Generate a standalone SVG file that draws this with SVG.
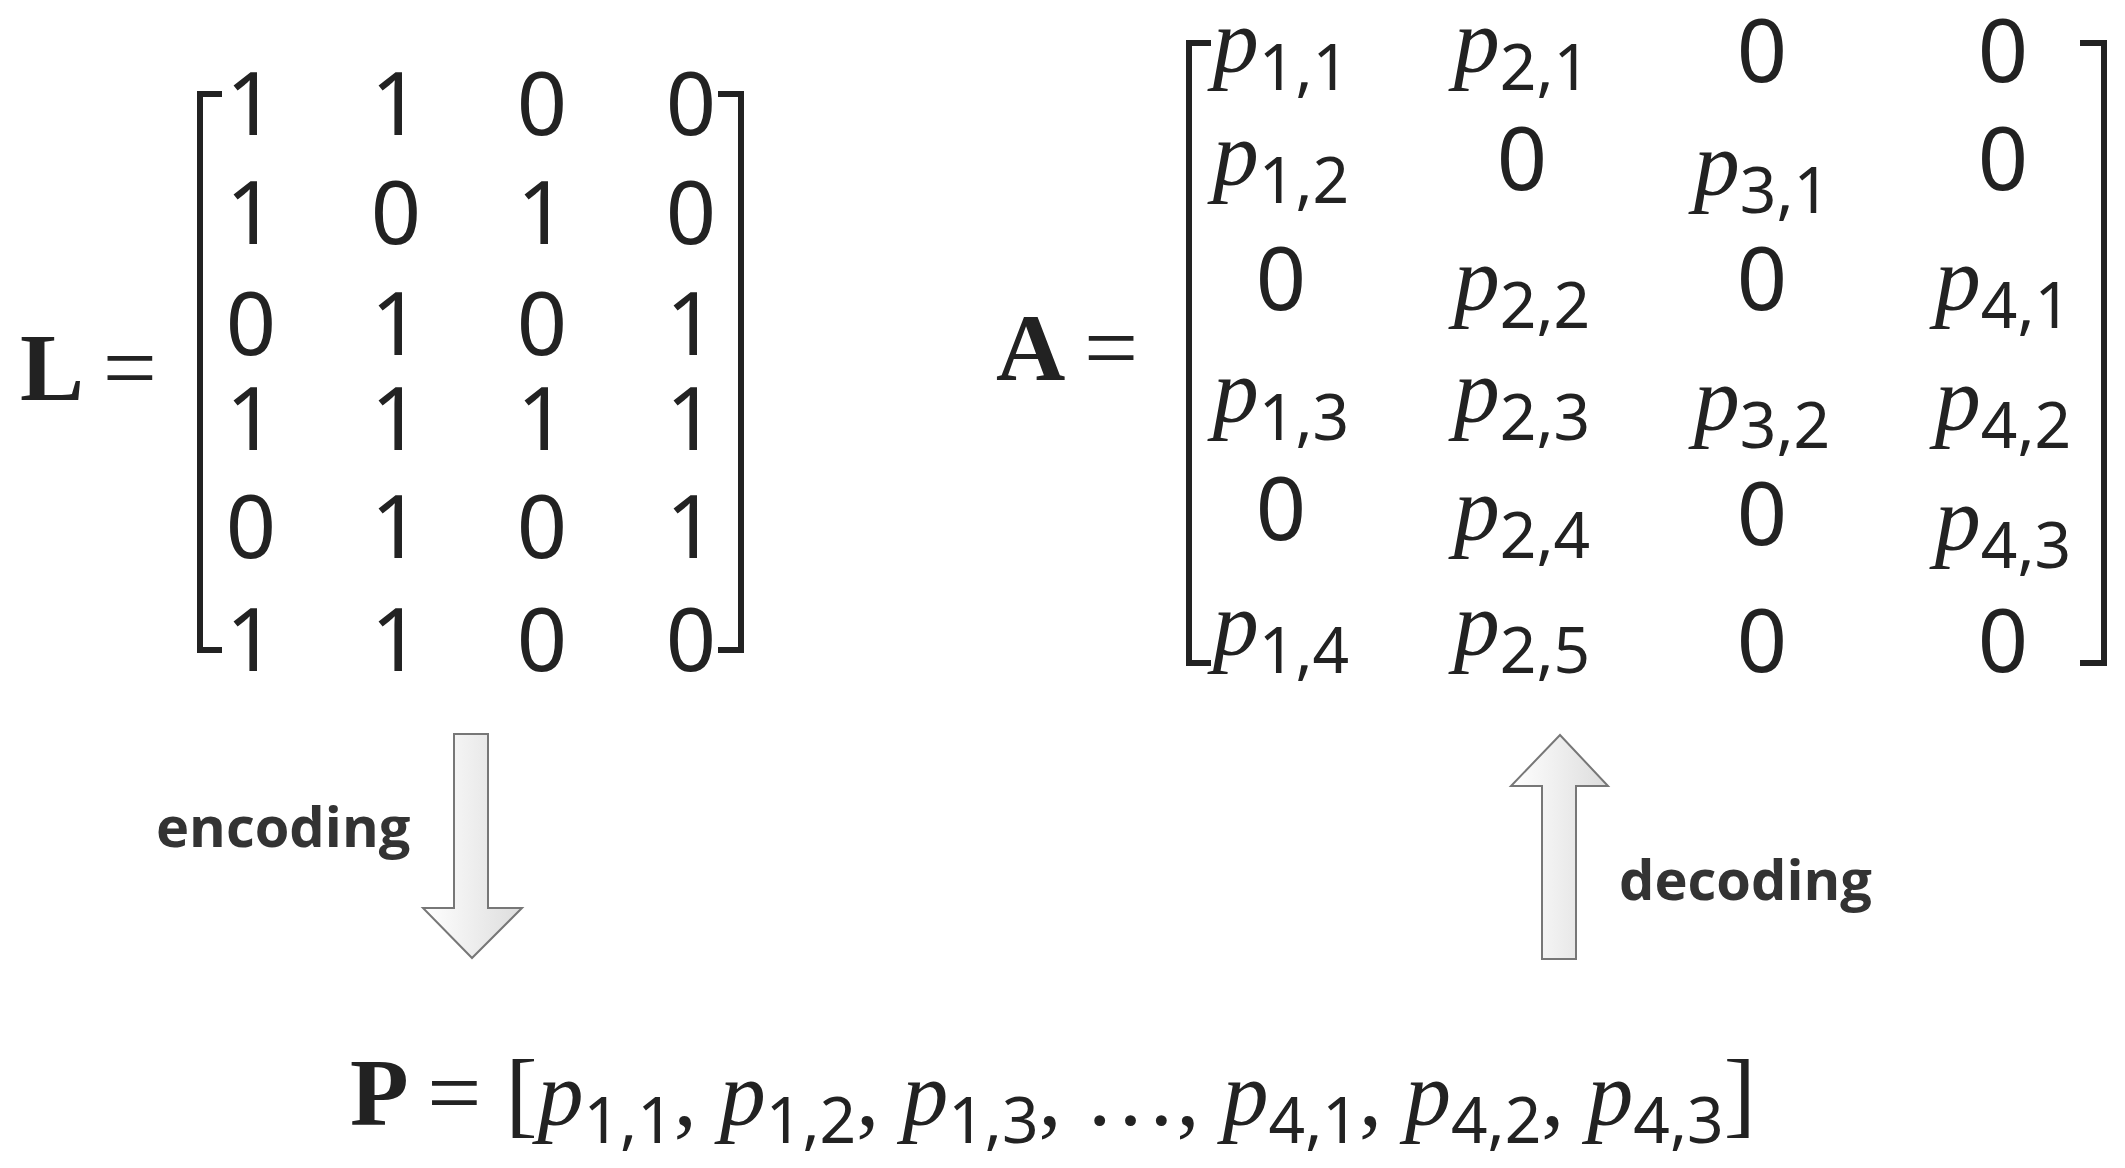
<svg xmlns="http://www.w3.org/2000/svg" width="2125" height="1168" viewBox="0 0 2125 1168">
<style>
.d{font-family:"Noto Sans","Liberation Sans",sans-serif;font-style:normal;font-weight:normal;font-size:88px;fill:#222;text-anchor:middle}
.p{font-family:"Liberation Serif",serif;font-style:italic;font-weight:normal;font-size:92px;fill:#222;text-anchor:middle}
.s{font-family:"Noto Sans",sans-serif;font-style:normal;font-weight:normal;font-size:64px}
.b{font-family:"Liberation Serif",serif;font-weight:bold;font-size:96px;fill:#222}
.eq{font-family:"Liberation Serif",serif;font-weight:normal;font-size:96px;fill:#222}
.n{font-style:normal;font-weight:normal}
.br{fill:none;stroke:#222;stroke-width:6}
.lbl{font-family:"Open Sans","Noto Sans",sans-serif;font-weight:bold;font-size:56px;fill:#333}
.arr{fill:url(#g);stroke:#777;stroke-width:2}
</style>
<defs><linearGradient id="g" x1="0" x2="1"><stop offset="0" stop-color="#fff"/><stop offset="1" stop-color="#ddd"/></linearGradient></defs>
<rect width="2125" height="1168" fill="#fff"/>
<g id="L">
<text class="b" x="20" y="400">L <tspan class="eq">=</tspan></text>
<path class="br" d="M222,94 H200 V650 H222 M718,94 H741 V650 H718"/>
<g class="d">
<text x="251" y="135">1</text><text x="396" y="135">1</text><text x="542" y="135">0</text><text x="691" y="135">0</text>
<text x="251" y="244">1</text><text x="396" y="244">0</text><text x="542" y="244">1</text><text x="691" y="244">0</text>
<text x="251" y="355">0</text><text x="396" y="355">1</text><text x="542" y="355">0</text><text x="691" y="355">1</text>
<text x="251" y="450">1</text><text x="396" y="450">1</text><text x="542" y="450">1</text><text x="691" y="450">1</text>
<text x="251" y="558">0</text><text x="396" y="558">1</text><text x="542" y="558">0</text><text x="691" y="558">1</text>
<text x="251" y="671">1</text><text x="396" y="671">1</text><text x="542" y="671">0</text><text x="691" y="671">0</text>
</g>
</g>
<g id="A">
<text class="b" x="996" y="380">A <tspan class="eq">=</tspan></text>
<path class="br" d="M1211,43 H1189 V663 H1211 M2080,43 H2104 V663 H2080"/>
<g class="p">
<text x="1281" y="72">p<tspan class="s" dy="18">1,1</tspan></text>
<text x="1522" y="72">p<tspan class="s" dy="18">2,1</tspan></text>
<text class="d" x="1762" y="82">0</text><text class="d" x="2003" y="82">0</text>
<text x="1281" y="185">p<tspan class="s" dy="18">1,2</tspan></text>
<text class="d" x="1522" y="190">0</text>
<text x="1762" y="195">p<tspan class="s" dy="18">3,1</tspan></text>
<text class="d" x="2003" y="190">0</text>
<text class="d" x="1281" y="310">0</text>
<text x="1522" y="310">p<tspan class="s" dy="18">2,2</tspan></text>
<text class="d" x="1762" y="310">0</text>
<text x="2003" y="310">p<tspan class="s" dy="18">4,1</tspan></text>
<text x="1281" y="422">p<tspan class="s" dy="18">1,3</tspan></text>
<text x="1522" y="422">p<tspan class="s" dy="18">2,3</tspan></text>
<text x="1762" y="430">p<tspan class="s" dy="18">3,2</tspan></text>
<text x="2003" y="430">p<tspan class="s" dy="18">4,2</tspan></text>
<text class="d" x="1281" y="540">0</text>
<text x="1522" y="540">p<tspan class="s" dy="18">2,4</tspan></text>
<text class="d" x="1762" y="545">0</text>
<text x="2003" y="550">p<tspan class="s" dy="18">4,3</tspan></text>
<text x="1281" y="655">p<tspan class="s" dy="18">1,4</tspan></text>
<text x="1522" y="655">p<tspan class="s" dy="18">2,5</tspan></text>
<text class="d" x="1762" y="672">0</text><text class="d" x="2003" y="672">0</text>
</g>
</g>
<g id="encoding">
<path class="arr" d="M454,734 H488 V908 H522 L472,958 L423,908 H454 Z"/>
<text class="lbl" x="156" y="847">encoding</text>
</g>
<g id="decoding">
<path class="arr" d="M1542,959 H1576 V786 H1608 L1560,735 L1511,786 H1542 Z"/>
<text class="lbl" x="1619" y="900">decoding</text>
</g>
<g id="P">
<text class="b" x="350" y="1125">P <tspan class="eq">= [</tspan><tspan class="p" style="text-anchor:start">p<tspan class="s" dy="18">1,1</tspan><tspan class="n" dy="-18">, </tspan>p<tspan class="s" dy="18">1,2</tspan><tspan class="n" dy="-18">, </tspan>p<tspan class="s" dy="18">1,3</tspan><tspan class="n" dy="-18">, …, </tspan>p<tspan class="s" dy="18">4,1</tspan><tspan class="n" dy="-18">, </tspan>p<tspan class="s" dy="18">4,2</tspan><tspan class="n" dy="-18">, </tspan>p<tspan class="s" dy="18">4,3</tspan></tspan><tspan class="eq" dy="-18">]</tspan></text>
</g>
</svg>
